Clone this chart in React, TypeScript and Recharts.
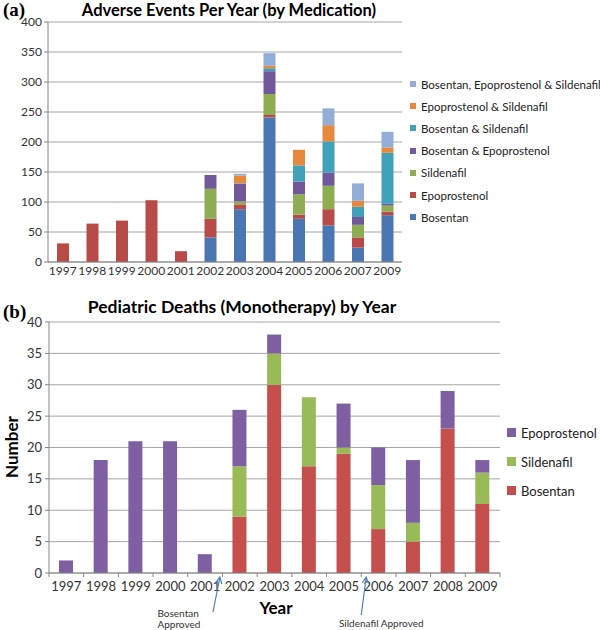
import React from "react";
import { BarChart, Bar, XAxis, YAxis, CartesianGrid, Legend } from "recharts";

// (a) adverse events per year, by medication
const aeYears = ["1997", "1998", "1999", "2000", "2001", "2002", "2003", "2004", "2005", "2006", "2007", "2009"];
const aeBosentan = [0, 0, 0, 0, 0, 41, 88, 241, 72, 61, 24, 78];
const aeEpoprostenol = [31, 64, 69, 103, 18, 31, 8, 4, 7, 27, 17, 6];
const aeSildenafil = [0, 0, 0, 0, 0, 50, 5, 35, 34, 39, 21, 10];
const aeBosEpo = [0, 0, 0, 0, 0, 23, 29, 38, 21, 22, 13, 3];
const aeBosSil = [0, 0, 0, 0, 0, 0, 1, 5, 27, 52, 17, 85];
const aeEpoSil = [0, 0, 0, 0, 0, 0, 13, 4, 26, 27, 10, 9];
const aeAll = [0, 0, 0, 0, 0, 0, 3, 21, 0, 28, 29, 26];
const aeTicks = [0, 50, 100, 150, 200, 250, 300, 350, 400];

// (b) pediatric deaths (monotherapy) by year
const deathYears = ["1997", "1998", "1999", "2000", "2001", "2002", "2003", "2004", "2005", "2006", "2007", "2008", "2009"];
const deathBosentan = [0, 0, 0, 0, 0, 9, 30, 17, 19, 7, 5, 23, 11];
const deathSildenafil = [0, 0, 0, 0, 0, 8, 5, 11, 1, 7, 3, 0, 5];
const deathEpoprostenol = [2, 18, 21, 21, 3, 9, 3, 0, 7, 6, 10, 6, 2];
const deathTicks = [0, 5, 10, 15, 20, 25, 30, 35, 40];

const FONT = "Lato, 'Noto Sans', sans-serif";
const AXIS = "#868686";
const GRID = "#a6a6a6";
const TXT = "#333";

const aeSeries = [
  { key: "bos", name: "Bosentan", color: "#4a76b2", values: aeBosentan },
  { key: "epo", name: "Epoprostenol", color: "#b84b48", values: aeEpoprostenol },
  { key: "sil", name: "Sildenafil", color: "#8eac52", values: aeSildenafil },
  { key: "be", name: "Bosentan & Epoprostenol", color: "#71589a", values: aeBosEpo },
  { key: "bs", name: "Bosentan & Sildenafil", color: "#3fa2ba", values: aeBosSil },
  { key: "es", name: "Epoprostenol & Sildenafil", color: "#e8883c", values: aeEpoSil },
  { key: "all", name: "Bosentan, Epoprostenol & Sildenafil", color: "#93aed6", values: aeAll },
];

const deathSeries = [
  { key: "bos", name: "Bosentan", color: "#c44f4c", values: deathBosentan },
  { key: "sil", name: "Sildenafil", color: "#98ba57", values: deathSildenafil },
  { key: "epo", name: "Epoprostenol", color: "#7d5fa2", values: deathEpoprostenol },
];

const aeData = aeYears.map((year, i) => {
  const row: Record<string, any> = { year };
  aeSeries.forEach((s) => (row[s.key] = s.values[i]));
  return row;
});

const deathData = deathYears.map((year, i) => {
  const row: Record<string, any> = { year };
  deathSeries.forEach((s) => (row[s.key] = s.values[i]));
  return row;
});

// bottom chart layout (needed for the boundary ticks between categories)
const B_LEFT = 49;
const B_RIGHT = 100;
const B_BAND = (600 - B_LEFT - B_RIGHT) / deathYears.length;

const makeLegend = (series: typeof aeSeries, fontSize: number, gap: number, box: number) => () => (
  <div style={{ fontFamily: FONT, fontSize, color: "#222" }}>
    {[...series].reverse().map((s) => (
      <div key={s.key} style={{ display: "flex", alignItems: "center", height: gap, whiteSpace: "nowrap" }}>
        <span style={{ width: box, height: box, flexShrink: 0, background: s.color, marginRight: 5, display: "inline-block" }} />
        {s.name}
      </div>
    ))}
  </div>
);

const AeTick = ({ x, y, payload }: any) => (
  <text x={x} y={y + 13} textAnchor="middle" fontSize={12} fill={TXT} fontFamily={FONT}>
    {payload.value}
  </text>
);

const Arrow = ({ x1, y1, x2, y2 }: { x1: number; y1: number; x2: number; y2: number }) => {
  const a = Math.atan2(y2 - y1, x2 - x1);
  const h = 7;
  const l = [x2 - h * Math.cos(a - 0.45), y2 - h * Math.sin(a - 0.45)];
  const r = [x2 - h * Math.cos(a + 0.45), y2 - h * Math.sin(a + 0.45)];
  return (
    <path
      d={`M${x1},${y1}L${x2},${y2}M${l[0]},${l[1]}L${x2},${y2}L${r[0]},${r[1]}`}
      stroke="#4f81bd"
      strokeWidth={1.2}
      fill="none"
    />
  );
};

const DeathTick = ({ x, y, payload, index }: any) => {
  const bx = x - B_BAND / 2;
  return (
    <g>
      <line x1={bx} y1={y} x2={bx} y2={y + 4} stroke={AXIS} />
      {index === deathYears.length - 1 && <line x1={bx + B_BAND} y1={y} x2={bx + B_BAND} y2={y + 4} stroke={AXIS} />}
      <text x={x} y={y + 18} textAnchor="middle" fontSize={13} fill={TXT} fontFamily={FONT}>
        {payload.value}
      </text>
      {payload.value === "2002" && (
        <g>
          <Arrow x1={bx - 9.5} y1={y + 39} x2={bx - 2.5} y2={y + 4} />
          <text x={bx - 65} y={y + 44} fontSize={10} fill={TXT} fontFamily={FONT}>
            Bosentan
          </text>
          <text x={bx - 65} y={y + 55} fontSize={10} fill={TXT} fontFamily={FONT}>
            Approved
          </text>
        </g>
      )}
      {payload.value === "2006" && (
        <g>
          <Arrow x1={bx} y1={y + 42} x2={bx + 5} y2={y + 4} />
          <text x={bx + 20} y={y + 54} textAnchor="middle" fontSize={10} fill={TXT} fontFamily={FONT}>
            Sildenafil Approved
          </text>
        </g>
      )}
    </g>
  );
};

const abs = (left: number, top: number, extra: React.CSSProperties = {}): React.CSSProperties => ({
  position: "absolute",
  left,
  top,
  ...extra,
});

export default function App() {
  return (
    <div style={{ position: "absolute", left: 0, top: 0, width: 600, height: 630, background: "#fff", fontFamily: FONT }}>
      {/* (a) */}
      <div style={abs(3, -1, { fontFamily: "'Liberation Serif', serif", fontWeight: "bold", fontSize: 19 })}>(a)</div>
      <div style={abs(0, 0, { width: 458, textAlign: "center", fontWeight: "bold", fontSize: 16.5, lineHeight: "20px" })}>
        Adverse Events Per Year (by Medication)
      </div>
      <div style={abs(0, 0)}>
        <BarChart
          width={600}
          height={285}
          data={aeData}
          margin={{ top: 22, right: 198, bottom: 0, left: 0 }}
          barSize={12}
        >
          <CartesianGrid vertical={false} stroke={GRID} />
          <XAxis dataKey="year" height={23} tickLine={false} tickSize={0} tickMargin={0} stroke={AXIS} tick={<AeTick />} interval={0} />
          <YAxis
            width={48}
            domain={[0, 400]}
            ticks={aeTicks}
            stroke={AXIS}
            tickSize={4}
            tickMargin={2}
            tick={{ fontSize: 12, fill: TXT, fontFamily: FONT }}
            interval={0}
          />
          {aeSeries.map((s) => (
            <Bar key={s.key} dataKey={s.key} name={s.name} stackId="a" fill={s.color} isAnimationActive={false} />
          ))}
          <Legend
            layout="vertical"
            align="center"
            verticalAlign="middle"
            wrapperStyle={{ left: 410, top: 73, width: 190 }}
            content={makeLegend(aeSeries, 11.5, 22.2, 6)}
          />
        </BarChart>
      </div>

      {/* (b) */}
      <div style={abs(3, 301, { fontFamily: "'Liberation Serif', serif", fontWeight: "bold", fontSize: 19 })}>(b)</div>
      <div style={abs(0, 296, { width: 484, textAlign: "center", fontWeight: "bold", fontSize: 17.5, lineHeight: "22px" })}>
        Pediatric Deaths (Monotherapy) by Year
      </div>
      <div
        style={abs(-28, 436, {
          width: 80,
          textAlign: "center",
          fontWeight: "bold",
          fontSize: 17,
          lineHeight: "22px",
          transform: "rotate(-90deg)",
        })}
      >
        Number
      </div>
      <div style={abs(236, 597, { width: 80, textAlign: "center", fontWeight: "bold", fontSize: 17, lineHeight: "22px" })}>
        Year
      </div>
      <div style={abs(0, 290)}>
        <BarChart
          width={600}
          height={340}
          data={deathData}
          margin={{ top: 32, right: B_RIGHT, bottom: 37, left: 0 }}
          barSize={14}
        >
          <CartesianGrid vertical={false} stroke={GRID} />
          <XAxis dataKey="year" height={20} tickLine={false} tickSize={0} tickMargin={0} stroke={AXIS} tick={<DeathTick />} interval={0} />
          <YAxis
            width={B_LEFT}
            domain={[0, 40]}
            ticks={deathTicks}
            stroke={AXIS}
            tickSize={4}
            tickMargin={3}
            tick={{ fontSize: 13, fill: TXT, fontFamily: FONT }}
            interval={0}
          />
          {deathSeries.map((s) => (
            <Bar key={s.key} dataKey={s.key} name={s.name} stackId="b" fill={s.color} isAnimationActive={false} />
          ))}
          <Legend
            layout="vertical"
            align="center"
            verticalAlign="middle"
            wrapperStyle={{ left: 507, top: 128, width: 93 }}
            content={makeLegend(deathSeries, 13, 29, 9)}
          />
        </BarChart>
      </div>
    </div>
  );
}
